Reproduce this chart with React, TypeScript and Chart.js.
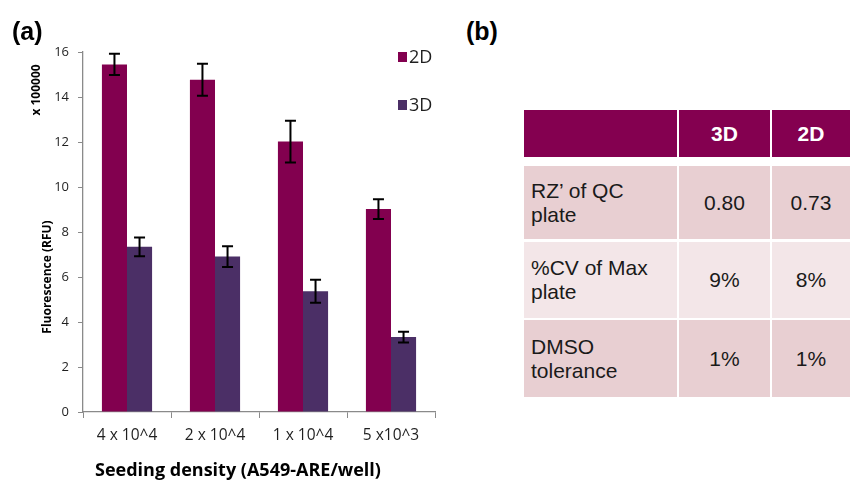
import React, { useEffect, useRef } from "react";
import { Chart, registerables } from "chart.js";

Chart.register(...registerables);

// ---- data ----
const categories = ["4 x 10^4", "2 x 10^4", "1 x 10^4", "5 x10^3"];
const values2D = [15.45, 14.77, 12.02, 9.02];
const values3D = [7.34, 6.91, 5.37, 3.33];
const errors2D = [0.47, 0.71, 0.93, 0.44];
const errors3D = [0.42, 0.46, 0.51, 0.24];
const seriesNames = ["2D", "3D"];
const yMin = 0;
const yMax = 16;
const yStep = 2;

const tableHeader = ["", "3D", "2D"];
const tableRowLabels = ["RZ\u2019 of QC plate", "%CV of Max plate", "DMSO tolerance"];
const table3D = ["0.80", "9%", "1%"];
const table2D = ["0.73", "8%", "1%"];

// ---- styles ----
const COLOR_2D = "#82004F";
const COLOR_3D = "#4B2F66";
const AXIS = "#8A8A8A";
const TEXT = "#1F1F1F";
const CHART_FONT = "'Open Sans', 'DejaVu Sans', sans-serif";
const TABLE_FONT = "'Liberation Sans', Arial, sans-serif";

const errorBarPlugin = {
  id: "errorBars",
  afterDatasetsDraw(chart: any) {
    const ctx = chart.ctx;
    const y = chart.scales.y;
    const errs = [errors2D, errors3D];
    const vals = [values2D, values3D];
    ctx.save();
    ctx.strokeStyle = "#000";
    ctx.lineWidth = 2;
    chart.data.datasets.forEach((_: any, i: number) => {
      const meta = chart.getDatasetMeta(i);
      meta.data.forEach((bar: any, j: number) => {
        const v = vals[i][j];
        const e = errs[i][j];
        const top = y.getPixelForValue(v + e);
        const bot = y.getPixelForValue(v - e);
        const x = bar.x;
        const cap = 5.5;
        ctx.beginPath();
        ctx.moveTo(x, top);
        ctx.lineTo(x, bot);
        ctx.moveTo(x - cap, top);
        ctx.lineTo(x + cap, top);
        ctx.moveTo(x - cap, bot);
        ctx.lineTo(x + cap, bot);
        ctx.stroke();
      });
    });
    ctx.restore();
  },
};

const textPlugin = {
  id: "chartTexts",
  afterDraw(chart: any) {
    const ctx = chart.ctx;
    const area = chart.chartArea;
    ctx.save();
    ctx.fillStyle = "#000";
    ctx.textAlign = "center";
    ctx.textBaseline = "middle";
    // y-axis titles
    ctx.save();
    ctx.translate(37, area.top + 38);
    ctx.rotate(-Math.PI / 2);
    ctx.font = `bold 12px ${CHART_FONT}`;
    ctx.fillText("x 100000", 0, 0);
    ctx.restore();
    ctx.save();
    ctx.translate(48, (area.top + area.bottom) / 2 + 45);
    ctx.rotate(-Math.PI / 2);
    ctx.font = `bold 12px ${CHART_FONT}`;
    ctx.fillText("Fluorescence (RFU)", 0, 0);
    ctx.restore();
    // x-axis title
    ctx.font = `bold 18px ${CHART_FONT}`;
    ctx.fillText("Seeding density (A549-ARE/well)", 238, 471);
    // legend
    const colors = [COLOR_2D, COLOR_3D];
    const ys = [57, 105];
    ctx.textAlign = "left";
    ctx.font = `18px ${CHART_FONT}`;
    seriesNames.forEach((n, i) => {
      ctx.fillStyle = colors[i];
      ctx.fillRect(398, ys[i] - 5, 9, 10);
      ctx.fillStyle = TEXT;
      ctx.fillText(n, 409, ys[i] + 1);
    });
    ctx.restore();
  },
};

function BarChart() {
  const ref = useRef<HTMLCanvasElement>(null);
  useEffect(() => {
    if (!ref.current) return;
    const chart = new Chart(ref.current, {
      type: "bar",
      data: {
        labels: categories,
        datasets: [
          { label: seriesNames[0], data: values2D, backgroundColor: COLOR_2D, borderWidth: 0 },
          { label: seriesNames[1], data: values3D, backgroundColor: COLOR_3D, borderWidth: 0 },
        ],
      },
      options: {
        responsive: false,
        maintainAspectRatio: false,
        animation: false,
        events: [],
        layout: { padding: { left: 0, right: 25, top: 52, bottom: 0 } },
        datasets: { bar: { categoryPercentage: 0.57, barPercentage: 1.0 } },
        plugins: { legend: { display: false }, tooltip: { enabled: false } },
        scales: {
          x: {
            grid: {
              display: true,
              drawOnChartArea: false,
              drawTicks: true,
              tickLength: 6,
              color: AXIS,
              offset: true,
            },
            border: { color: AXIS, width: 1.3 },
            ticks: { color: TEXT, font: { family: CHART_FONT, size: 15.5 }, padding: 8, maxRotation: 0 },
            afterFit: (s: any) => {
              s.height = 72;
            },
          },
          y: {
            min: yMin,
            max: yMax,
            grid: { display: true, drawOnChartArea: false, drawTicks: true, tickLength: 5, color: AXIS },
            border: { color: AXIS, width: 1.3 },
            ticks: { stepSize: yStep, color: TEXT, font: { family: CHART_FONT, size: 13 }, padding: 9 },
            afterFit: (s: any) => {
              s.width = 83;
            },
          },
        },
      },
      plugins: [errorBarPlugin, textPlugin],
    });
    return () => chart.destroy();
  }, []);
  return (
    <canvas
      ref={ref}
      width={460}
      height={484}
      style={{ position: "absolute", left: 0, top: 0, width: 460, height: 484, display: "block" }}
    />
  );
}

const cols = [
  { left: 524, width: 153 },
  { left: 679, width: 91 },
  { left: 772, width: 78 },
];
const rows = [
  { top: 110, height: 47 },
  { top: 166, height: 73 },
  { top: 242, height: 76 },
  { top: 320, height: 77 },
];
const rowFills = ["#840050", "#E8CFD2", "#F3E6E8", "#E8CFD2"];

function Table() {
  const cells: any[] = [];
  rows.forEach((r, ri) => {
    cols.forEach((c, ci) => {
      let text = "";
      if (ri === 0) text = tableHeader[ci];
      else if (ci === 0) text = tableRowLabels[ri - 1];
      else if (ci === 1) text = table3D[ri - 1];
      else text = table2D[ri - 1];
      const header = ri === 0;
      cells.push(
        <div
          key={`${ri}-${ci}`}
          style={{
            position: "absolute",
            left: c.left,
            top: r.top,
            width: c.width,
            height: r.height,
            background: rowFills[ri],
            display: "flex",
            alignItems: "center",
            justifyContent: ci === 0 ? "flex-start" : "center",
            boxSizing: "border-box",
            paddingLeft: ci === 0 ? 7 : 0,
            paddingRight: ci === 0 ? 24 : 0,
            fontFamily: TABLE_FONT,
            fontSize: 21,
            lineHeight: "24px",
            fontWeight: header ? "bold" : "normal",
            color: header ? "#FFFFFF" : "#1A1A1A",
          }}
        >
          <span>{text}</span>
        </div>
      );
    });
  });
  return <>{cells}</>;
}

export default function App() {
  return (
    <div
      style={{
        position: "absolute",
        left: 0,
        top: 0,
        width: 852,
        height: 484,
        background: "#FFFFFF",
        overflow: "hidden",
      }}
    >
      <BarChart />
      <div
        style={{
          position: "absolute",
          left: 12,
          top: 16,
          fontFamily: TABLE_FONT,
          fontWeight: "bold",
          fontSize: 25,
          lineHeight: "30px",
          color: "#000",
        }}
      >
        (a)
      </div>
      <div
        style={{
          position: "absolute",
          left: 466,
          top: 16,
          fontFamily: TABLE_FONT,
          fontWeight: "bold",
          fontSize: 25,
          lineHeight: "30px",
          color: "#000",
        }}
      >
        (b)
      </div>
      <Table />
    </div>
  );
}
